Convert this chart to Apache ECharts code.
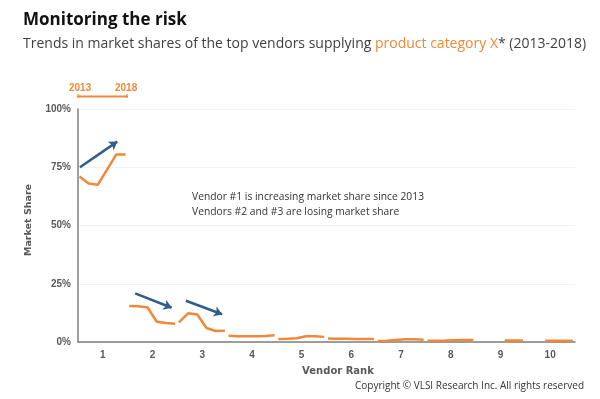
<!DOCTYPE html>
<html><head><meta charset="utf-8">
<script src="https://cdn.jsdelivr.net/npm/echarts@6/dist/echarts.min.js"></script>
<style>html,body{margin:0;padding:0;background:#fff}#c{width:600px;height:399px}</style>
</head><body><div id="c"></div>
<script>
const ranks = ['1','2','3','4','5','6','7','8','9','10'];
const years = [2013, 2014, 2015, 2016, 2017, 2018];
const yTicks = [0, 25, 50, 75, 100];
const shareV1 = [71, 68, 67.5, 74, 80.5, 80.5];
const shareV2 = [15.5, 15.3, 14.8, 8.7, 8.2, 7.8];
const shareV3 = [8.4, 12.3, 11.8, 6, 4.7, 4.8];
const shareV4 = [2.7, 2.5, 2.5, 2.5, 2.6, 2.9];
const shareV5 = [1.3, 1.4, 1.6, 2.5, 2.5, 2.2];
const shareV6 = [1.5, 1.4, 1.4, 1.3, 1.3, 1.3];
const shareV7 = [0.4, 0.5, 0.9, 1.2, 1.2, 1.0];
const shareV8 = [0.5, 0.5, 0.6, 0.8, 0.9, 0.9];
const shareV9 = [null, null, null, 0.6, 0.6, 0.6];
const shareV10 = [null, null, 0.5, 0.5, 0.5, 0.5];
const shares = [shareV1, shareV2, shareV3, shareV4, shareV5, shareV6, shareV7, shareV8, shareV9, shareV10];
// trend arrows: [rank offset start, share start, rank offset end, share end]
const trendArrows = [
  [0.04, 75, 0.79, 86],
  [1.15, 20.9, 1.885, 14.7],
  [2.17, 17.7, 2.90, 11.9]
];

const ORANGE = '#F0883A';
const BLUE = '#2E5E8C';
const GRAY = '#595959';

const series = shares.map((vals, r) => ({
  type: 'line',
  xAxisIndex: 1,
  showSymbol: false,
  connectNulls: false,
  lineStyle: { color: ORANGE, width: 2.5 },
  itemStyle: { color: ORANGE },
  data: vals.map((v, i) => [r + 0.03 + i * 0.185, v]),
  silent: true
}));
series.push({
  type: 'line', xAxisIndex: 1, data: [], silent: true,
  markLine: {
    silent: true,
    symbol: ['none', 'arrow'],
    symbolSize: 8,
    label: { show: false },
    lineStyle: { color: BLUE, width: 2.5, type: 'solid' },
    data: trendArrows.map(a => [{ coord: [a[0], a[1]] }, { coord: [a[2], a[3]] }])
  }
});

const chart = echarts.init(document.getElementById('c'), null, { renderer: 'canvas' });
chart.setOption({
  animation: false,
  grid: { left: 78, right: 25, top: 109, bottom: 57 },
  xAxis: [
    { type: 'category', data: ranks, boundaryGap: true,
      axisLine: { lineStyle: { color: '#7f7f7f', width: 1.5 } },
      axisTick: { show: false },
      axisLabel: { fontFamily: 'Arial', fontWeight: 'bold', fontSize: 10, color: GRAY, margin: 8 },
      splitLine: { show: false } },
    { type: 'value', min: 0, max: 10, show: false }
  ],
  yAxis: {
    type: 'value', min: 0, max: 100, interval: 25,
    axisLine: { show: true, lineStyle: { color: '#7f7f7f', width: 1.5 } },
    axisTick: { show: false },
    axisLabel: { formatter: '{value}%', fontFamily: 'Arial', fontWeight: 'bold', fontSize: 10, color: GRAY, margin: 7 },
    splitLine: { lineStyle: { color: '#f2f2f2', width: 1 } }
  },
  graphic: [
    { type: 'text', left: 23, top: 12, style: { text: 'Monitoring the risk',
        fontFamily: 'Open Sans', fontWeight: 'bold', fontSize: 17, fill: '#111' } },
    { type: 'text', left: 23, top: 37, style: {
        text: '{a|Trends in market shares of the top vendors supplying }{b|product category X}{a|* (2013-2018)}',
        rich: {
          a: { fontFamily: 'Open Sans', fontSize: 14, fontWeight: 'normal', fill: '#404040' },
          b: { fontFamily: 'Open Sans', fontSize: 14, fontWeight: 'normal', fill: ORANGE } } } },
    { type: 'text', left: 355, top: 381, style: { text: 'Copyright © VLSI Research Inc. All rights reserved',
        fontFamily: 'Open Sans', fontSize: 10, fill: '#333' } },
    { type: 'text', x: 338, y: 371, style: { text: 'Vendor Rank', align: 'center', verticalAlign: 'middle',
        fontFamily: 'DejaVu Sans', fontWeight: 'bold', fontSize: 10, fill: GRAY } },
    { type: 'text', x: 29, y: 220, rotation: Math.PI / 2, style: { text: 'Market Share', align: 'center', verticalAlign: 'middle',
        fontFamily: 'DejaVu Sans', fontWeight: 'bold', fontSize: 9.5, fill: GRAY } },
    { type: 'text', left: 192, top: 190, style: {
        text: 'Vendor #1 is increasing market share since 2013\nVendors #2 and #3 are losing market share',
        fontFamily: 'Open Sans', fontSize: 10.3, lineHeight: 15, fill: '#333' } },
    { type: 'text', left: 69, top: 83, style: { text: String(years[0]), fontFamily: 'Arial', fontWeight: 'bold', fontSize: 10, fill: ORANGE } },
    { type: 'text', left: 115, top: 83, style: { text: String(years[years.length - 1]), fontFamily: 'Arial', fontWeight: 'bold', fontSize: 10, fill: ORANGE } },
    { type: 'line', shape: { x1: 77, y1: 96.5, x2: 128, y2: 96.5 }, style: { stroke: ORANGE, lineWidth: 2 } },
    { type: 'line', shape: { x1: 78, y1: 94, x2: 78, y2: 98 }, style: { stroke: ORANGE, lineWidth: 1 } },
    { type: 'line', shape: { x1: 127, y1: 94, x2: 127, y2: 98 }, style: { stroke: ORANGE, lineWidth: 1 } }
  ],
  series: series
});
</script></body></html>
